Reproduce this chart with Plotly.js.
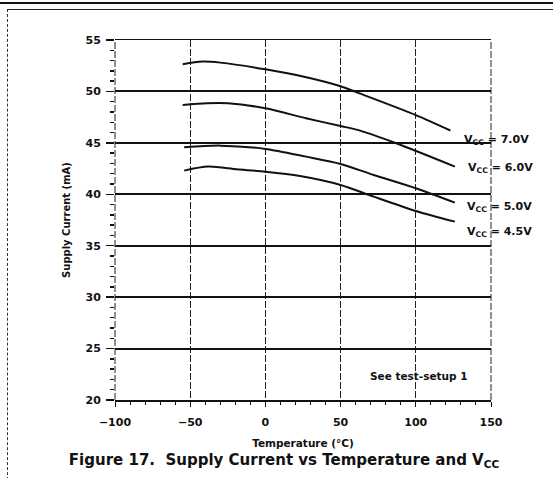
<!DOCTYPE html>
<html>
<head>
<meta charset="utf-8">
<script src="https://cdn.plot.ly/plotly-3.0.1.min.js"></script>
<style>
html,body{margin:0;padding:0;background:#fff;}
#wrap{position:relative;width:553px;height:478px;overflow:hidden;}
#chart{position:absolute;left:0;top:0;width:553px;height:478px;}
#topline{position:absolute;left:0;top:2px;width:553px;height:2px;background:#111;z-index:2;}
#frame{position:absolute;left:7px;top:9px;width:560px;height:480px;border-top:1px solid #222;border-left:1px dashed #333;z-index:2;}
</style>
</head>
<body>
<div id="wrap">
<div id="chart"></div>
<div id="topline"></div>
<div id="frame"></div>
</div>
<script>
// Temperature (°C) and supply current (mA)
const temp70 = [-55, -42, -30, 0, 25, 50, 60, 100, 123];
const cur70  = [52.65, 52.9, 52.8, 52.15, 51.45, 50.5, 49.95, 47.7, 46.2];

const temp60 = [-55, -39, -25, 0, 27, 50, 63, 87, 126];
const cur60  = [48.68, 48.85, 48.85, 48.36, 47.39, 46.64, 46.19, 44.96, 42.69];

const temp50 = [-54, -30, 0, 27, 50, 72, 100, 126];
const cur50  = [44.57, 44.73, 44.41, 43.66, 42.95, 41.88, 40.59, 39.19];

const temp45 = [-54, -38, -19, 0, 23, 50, 72, 100, 126];
const cur45  = [42.3, 42.69, 42.43, 42.2, 41.78, 40.91, 39.77, 38.38, 37.34];

const seriesNames = ['V<sub>CC</sub> = 7.0V', 'V<sub>CC</sub> = 6.0V', 'V<sub>CC</sub> = 5.0V', 'V<sub>CC</sub> = 4.5V'];
const labelX = [130.5, 133.5, 132.5, 132.5];
const labelY = [45.3, 42.55, 38.8, 36.35];

const xTicks = [-100, -50, 0, 50, 100, 150];
const yTicks = [20, 25, 30, 35, 40, 45, 50, 55];

const FONT = 'DejaVu Sans, Liberation Sans, Arial, sans-serif';

const allT = [temp70, temp60, temp50, temp45];
const allI = [cur70, cur60, cur50, cur45];

const traces = allT.map((t, k) => ({
  x: t, y: allI[k], type: 'scatter', mode: 'lines',
  line: {color: '#111', width: 2, shape: 'spline', smoothing: 0.8},
  name: seriesNames[k], hoverinfo: 'skip'
}));

const annotations = seriesNames.map((s, k) => ({
  x: labelX[k], y: labelY[k], xref: 'x', yref: 'y',
  text: s, showarrow: false, xanchor: 'left', yanchor: 'middle',
  font: {family: FONT, size: 11, color: '#111', weight: 'bold'}
}));
annotations.push({
  x: 102, y: 22.35, xref: 'x', yref: 'y', text: 'See test-setup 1',
  showarrow: false, xanchor: 'center', yanchor: 'middle',
  font: {family: FONT, size: 10.5, color: '#111', weight: 'bold'}
});

const frameLine = {type: 'line', xref: 'paper', yref: 'paper', y0: 0, y1: 1,
  line: {color: '#222', width: 1, dash: '7px,2px'}, layer: 'above'};

const layout = {
  width: 553, height: 478,
  margin: {l: 115, r: 62, t: 40, b: 78},
  paper_bgcolor: '#fff', plot_bgcolor: '#fff',
  showlegend: false,
  font: {family: FONT, color: '#111'},
  title: {
    text: 'Figure 17.  Supply Current vs Temperature and V<sub>CC</sub>',
    x: 284/553, xref: 'container', xanchor: 'center',
    y: 1 - 460/478, yref: 'container', yanchor: 'middle',
    font: {family: FONT, size: 15, color: '#111', weight: 'bold'}
  },
  xaxis: {
    range: [-100, 150], tickvals: xTicks, ticktext: xTicks.map(v => v < 0 ? '\u2212' + Math.abs(v) : String(v)),
    showgrid: true, gridcolor: '#222', gridwidth: 1, griddash: '7px,2px',
    zeroline: false, showline: true, mirror: true, linecolor: '#111', linewidth: 1.5,
    ticks: 'outside', ticklen: 5, tickcolor: '#111', tickwidth: 1,
    ticklabelstandoff: 6,
    minor: {dtick: 10, tick0: 0, ticks: 'outside', ticklen: 3, tickcolor: '#111', showgrid: false},
    tickfont: {family: FONT, size: 11, color: '#111', weight: 'bold'},
    title: {text: 'Temperature (°C)', standoff: 12, font: {family: FONT, size: 10.5, color: '#111', weight: 'bold'}},
    fixedrange: true
  },
  yaxis: {
    range: [20, 55], tickvals: yTicks,
    showgrid: true, gridcolor: '#111', gridwidth: 2,
    zeroline: false, showline: false,
    ticks: 'outside', ticklen: 8, tickcolor: '#111', tickwidth: 1.5,
    ticklabelstandoff: 3,
    minor: {dtick: 1, tick0: 20, ticks: 'outside', ticklen: 4, tickcolor: '#111', showgrid: false},
    tickfont: {family: FONT, size: 11, color: '#111', weight: 'bold'},
    title: {text: 'Supply Current (mA)', standoff: 12, font: {family: FONT, size: 10, color: '#111', weight: 'bold'}},
    fixedrange: true
  },
  shapes: [
    Object.assign({}, frameLine, {x0: 0, x1: 0}),
    Object.assign({}, frameLine, {x0: 1, x1: 1})
  ],
  annotations: annotations
};

Plotly.newPlot('chart', traces, layout, {staticPlot: true, displayModeBar: false});
</script>
</body>
</html>
